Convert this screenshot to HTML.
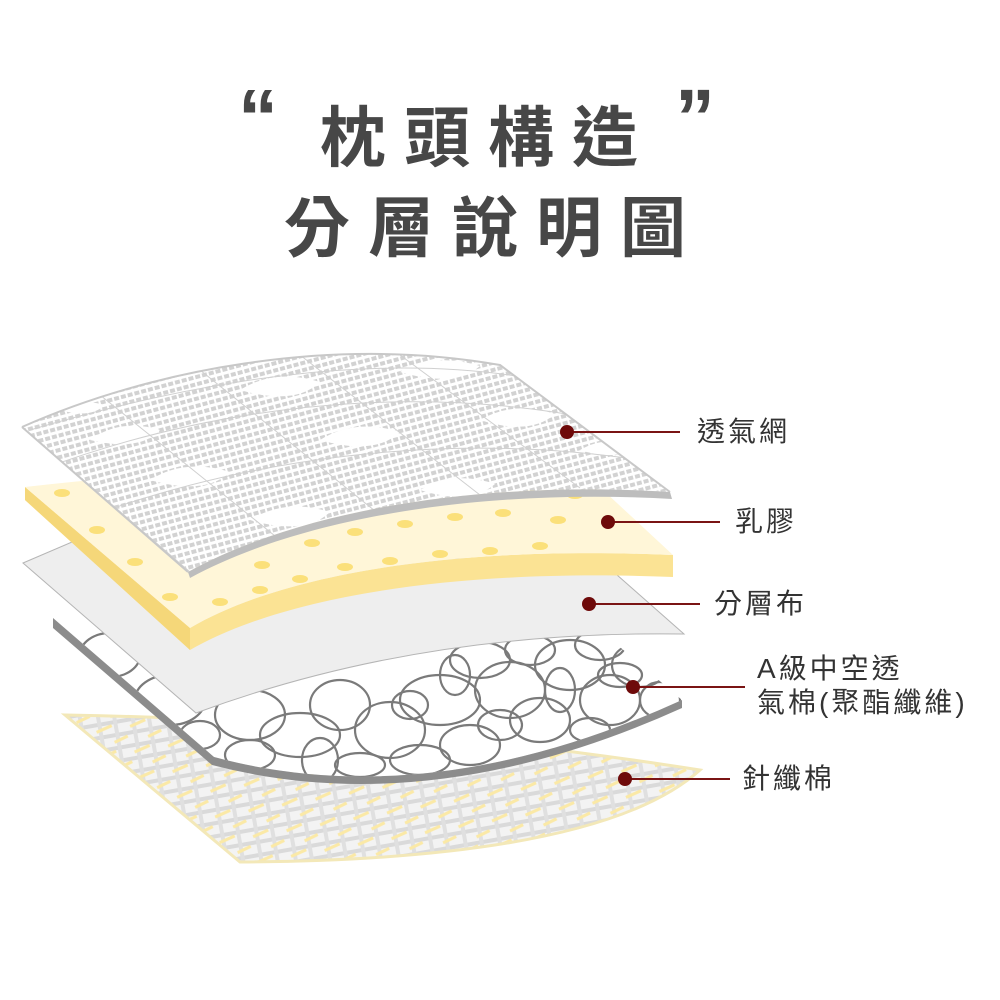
<!DOCTYPE html>
<html><head><meta charset="utf-8"><style>
html,body{margin:0;padding:0;background:#fff}
body{width:1000px;height:1000px;position:relative;overflow:hidden;font-family:"Liberation Sans","Noto Sans CJK TC",sans-serif}
.t{position:absolute;color:#474747;font-weight:bold;font-family:"Liberation Sans","Noto Sans CJK TC",sans-serif;white-space:nowrap}
.l{position:absolute;color:#333;font-size:28px;white-space:nowrap;letter-spacing:3px;font-family:"Liberation Sans","Noto Sans CJK TC",sans-serif;line-height:34px}
</style></head><body>
<div class="t" style="left:238px;top:78px;font-size:80px;line-height:80px">“</div>
<div class="t" style="left:320px;top:98px;font-size:66px;line-height:80px;letter-spacing:18px">枕頭構造</div>
<div class="t" style="left:675px;top:78px;font-size:80px;line-height:80px">”</div>
<div class="t" style="left:284px;top:188px;font-size:66px;line-height:80px;letter-spacing:18px">分層說明圖</div>

<svg width="1000" height="1000" style="position:absolute;left:0;top:0">
<defs>
<pattern id="mesh" width="7" height="7" patternUnits="userSpaceOnUse" patternTransform="rotate(-15)">
<rect width="7" height="7" fill="#fff"/>
<rect x="0" y="0" width="5" height="4" fill="#d2d2d2"/>
</pattern>
<pattern id="knit" width="34" height="26" patternUnits="userSpaceOnUse" patternTransform="rotate(-10)">
<rect width="34" height="26" fill="#f3f3f3"/>
<path d="M0 3H34M0 16H34" stroke="#dadada" stroke-width="4"/>
<path d="M6 0V26M22 0V26" stroke="#e0e0e0" stroke-width="4"/>
<path d="M2 10L18 6M18 23L32 19" stroke="#fbe9a6" stroke-width="3"/>
</pattern>
<clipPath id="mc"><path d="M22 427 C150 370 330 335 500 365 L670 492 C480 480 300 510 188 572Z"/></clipPath>
<clipPath id="fc"><path d="M53 618 L214 757 Q430 815 682 700 L600 630 Q350 600 53 618Z"/></clipPath>
</defs>

<path d="M65 715 Q380 720 700 770 Q600 860 240 862 Z" fill="url(#knit)" stroke="#f3e8b8" stroke-width="3"/>

<path d="M53 618 L214 757 Q430 815 682 700 L600 630 Q350 600 53 618Z" fill="#fff"/>
<g clip-path="url(#fc)" fill="none" stroke="#7a7a7a" stroke-width="2.2">
<ellipse cx="110" cy="655" rx="30" ry="22"/><ellipse cx="170" cy="700" rx="35" ry="25"/>
<ellipse cx="250" cy="715" rx="35" ry="25"/><ellipse cx="300" cy="735" rx="40" ry="22"/>
<ellipse cx="340" cy="705" rx="30" ry="25"/><ellipse cx="390" cy="730" rx="35" ry="28"/>
<ellipse cx="440" cy="700" rx="40" ry="25"/><ellipse cx="470" cy="745" rx="30" ry="20"/>
<ellipse cx="510" cy="690" rx="35" ry="28"/><ellipse cx="540" cy="720" rx="30" ry="22"/>
<ellipse cx="570" cy="665" rx="35" ry="25"/><ellipse cx="610" cy="700" rx="30" ry="25"/>
<ellipse cx="640" cy="665" rx="28" ry="22"/><ellipse cx="660" cy="700" rx="20" ry="18"/>
<ellipse cx="480" cy="660" rx="30" ry="18"/><ellipse cx="530" cy="650" rx="25" ry="15"/>
<ellipse cx="600" cy="645" rx="25" ry="15"/><ellipse cx="420" cy="760" rx="30" ry="15"/>
<ellipse cx="250" cy="755" rx="25" ry="15"/><ellipse cx="360" cy="765" rx="25" ry="12"/>
<ellipse cx="320" cy="760" rx="18" ry="22"/><ellipse cx="410" cy="705" rx="18" ry="14"/>
<ellipse cx="560" cy="690" rx="15" ry="22"/><ellipse cx="620" cy="675" rx="22" ry="12"/>
<ellipse cx="500" cy="725" rx="22" ry="15"/><ellipse cx="200" cy="735" rx="20" ry="14"/>
<ellipse cx="455" cy="675" rx="15" ry="20"/><ellipse cx="590" cy="730" rx="20" ry="12"/>
</g>
<path d="M53 618 L214 757 Q430 815 682 700 L682 708 Q430 822 212 765 L53 628Z" fill="#8c8c8c"/>

<path d="M23 563 L72 542 Q330 560 600 560 L684 634 Q420 630 196 713 Z" fill="#eeeeee" stroke="#b5b5b5" stroke-width="1"/>

<path d="M25 487 L190 628 C280 575 450 545 673 555 L673 577 C450 568 280 598 190 650 L25 500Z" fill="#fbe394"/>
<path d="M25 487 L190 628 L190 650 L25 500Z" fill="#f5d779"/>
<path d="M25 487 L190 628 C280 575 450 545 673 555 L590 478 Q300 455 25 487Z" fill="#fff6d8"/>
<g fill="#fbe07a">
<ellipse cx="62" cy="493" rx="8" ry="4"/><ellipse cx="97" cy="530" rx="8" ry="4"/><ellipse cx="135" cy="562" rx="8" ry="4"/><ellipse cx="170" cy="597" rx="8" ry="4"/>
<ellipse cx="220" cy="602" rx="8" ry="4"/><ellipse cx="260" cy="590" rx="8" ry="4"/><ellipse cx="300" cy="579" rx="8" ry="4"/><ellipse cx="345" cy="567" rx="8" ry="4"/><ellipse cx="390" cy="561" rx="8" ry="4"/><ellipse cx="440" cy="554" rx="8" ry="4"/><ellipse cx="490" cy="551" rx="8" ry="4"/><ellipse cx="540" cy="546" rx="8" ry="4"/>
<ellipse cx="262" cy="565" rx="8" ry="4"/><ellipse cx="312" cy="543" rx="8" ry="4"/><ellipse cx="355" cy="532" rx="8" ry="4"/><ellipse cx="405" cy="524" rx="8" ry="4"/><ellipse cx="455" cy="517" rx="8" ry="4"/><ellipse cx="503" cy="513" rx="8" ry="4"/><ellipse cx="558" cy="520" rx="8" ry="4"/><ellipse cx="530" cy="494" rx="8" ry="4"/><ellipse cx="575" cy="495" rx="8" ry="4"/>
</g>

<path d="M22 427 C150 370 330 335 500 365 L670 492 C480 480 300 510 188 572Z" fill="url(#mesh)"/>
<g clip-path="url(#mc)">
<g fill="#fff">
<path d="M90 440 q30 -22 70 -10 q-20 22 -70 10Z"/><path d="M240 390 q35 -22 80 -8 q-25 24 -80 8Z"/>
<path d="M400 372 q35 -20 80 -6 q-25 22 -80 6Z"/><path d="M150 480 q35 -22 80 -8 q-25 24 -80 8Z"/>
<path d="M320 440 q35 -22 80 -8 q-25 24 -80 8Z"/><path d="M480 420 q35 -20 75 -6 q-25 22 -75 6Z"/>
<path d="M250 520 q35 -22 80 -8 q-25 24 -80 8Z"/><path d="M420 490 q35 -20 75 -6 q-25 22 -75 6Z"/>
<path d="M60 410 q20 -12 45 -5 q-15 14 -45 5Z"/><path d="M580 450 q25 -15 55 -4 q-18 16 -55 4Z"/>
</g>
<g fill="none" stroke="#d0d0d0" stroke-width="1">
<path d="M22 427 L190 572M100 395 L280 540M200 370 L380 515M300 355 L480 495M400 355 L580 488M500 365 L670 492"/>
<path d="M40 470 C200 410 400 380 600 420M80 520 C240 460 440 430 640 460M30 430 C200 380 380 350 540 380"/>
</g>
</g>
<path d="M22 427 C150 370 330 335 500 365 L670 492" fill="none" stroke="#c8c8c8" stroke-width="2"/>
<path d="M22 427 L188 572" fill="none" stroke="#c8c8c8" stroke-width="2"/>
<path d="M188 572 C300 510 480 480 670 492 L672 499 C480 488 300 518 190 578Z" fill="#bdbdbd"/>

<g stroke="#7a1414" stroke-width="2">
<line x1="567" y1="432" x2="680" y2="432"/>
<line x1="608" y1="522" x2="720" y2="522"/>
<line x1="589" y1="604" x2="700" y2="604"/>
<line x1="633" y1="687" x2="745" y2="687"/>
<line x1="625" y1="779" x2="730" y2="779"/>
</g>
<g fill="#6e0a0a">
<circle cx="567" cy="432" r="7"/><circle cx="608" cy="522" r="7"/><circle cx="589" cy="604" r="7"/><circle cx="633" cy="687" r="7"/><circle cx="625" cy="779" r="7"/>
</g>
</svg>

<div class="l" style="left:697px;top:415px">透氣網</div>
<div class="l" style="left:735px;top:505px">乳膠</div>
<div class="l" style="left:714px;top:587px">分層布</div>
<div class="l" style="left:757px;top:652px">A級中空透<br>氣棉(聚酯纖維)</div>
<div class="l" style="left:742px;top:762px">針纖棉</div>
</body></html>
